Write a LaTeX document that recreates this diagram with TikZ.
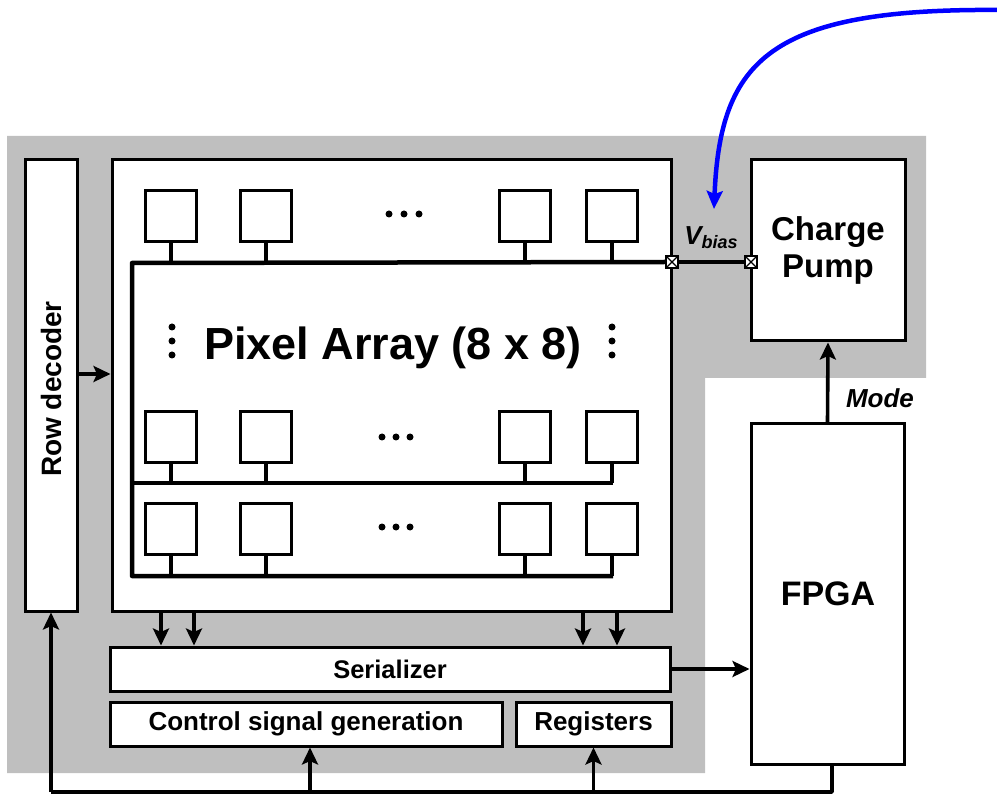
\documentclass[tikz,border=0pt]{standalone}
\usepackage{fontspec}
\setmainfont{Liberation Sans}
\usetikzlibrary{arrows.meta}
\definecolor{bggray}{RGB}{191,191,191}
\definecolor{curveblue}{RGB}{0,0,255}
\begin{document}
\begin{tikzpicture}[x=1pt,y=-1pt,
  box/.style={draw, line width=3pt, fill=white, inner sep=0pt},
  pix/.style={draw, line width=3pt, fill=white, minimum width=51pt, minimum height=51pt, inner sep=0pt},
  bus/.style={line width=4.5pt},
  wire/.style={line width=3.6pt},
  arr/.style={line width=3.6pt, -{Stealth[length=17pt,width=16pt,inset=3.5pt]}},
  lbl/.style={font=\fontsize{26}{30}\selectfont\bfseries},
  term/.style={draw, line width=2pt, fill=white, minimum size=12pt, inner sep=0pt,
    path picture={\draw[line width=1.4pt] (path picture bounding box.north west) -- (path picture bounding box.south east) (path picture bounding box.north east) -- (path picture bounding box.south west);}}
]
\useasboundingbox (0,0) rectangle (997,794);
% gray background
\fill[bggray] (7,136) -- (926,136) -- (926,378) -- (705,378) -- (705,773) -- (7,773) -- cycle;

% main boxes
\node[box, minimum width=52pt, minimum height=451pt] (rowdec) at (51,385.5) {};
\node[font=\fontsize{28}{30}\selectfont\bfseries, rotate=90] (rowtxt) at (51,389) {Row decoder};
\node[box, minimum width=559pt, minimum height=451pt] (pa) at (391.5,385.5) {};
\node[box, minimum width=154pt, minimum height=181pt, align=center, font=\fontsize{33}{37}\selectfont\bfseries] (cp) at (828,250.5) {Charge\\Pump};
\node[box, minimum width=153pt, minimum height=340pt] (fpga) at (827.5,594) {};
\node[font=\fontsize{34}{38}\selectfont\bfseries] (fpgatxt) at (828,594) {FPGA};
\node[box, minimum width=560pt, minimum height=44pt, font=\fontsize{25.5}{30}\selectfont\bfseries] (ser) at (390,669) {Serializer};
\node[box, minimum width=392pt, minimum height=44pt, lbl] (ctrl) at (306,724) {Control signal generation};
\node[box, minimum width=155pt, minimum height=44pt, lbl] (reg) at (593.5,724) {Registers};

% pixel array title
\node[font=\fontsize{45}{48}\selectfont\bfseries] (title) at (393,348) {Pixel Array (8 x 8)};

% terminals
\node[term] (t1) at (672,262) {};
\node[term] (t2) at (751,262) {};

% buses
\coordinate (b1L) at (132,263);
\coordinate (b2L) at (132,483);
\coordinate (b3L) at (132,576);
\coordinate (b2R) at (613,483);
\coordinate (b3R) at (613,576);
\draw[bus, line join=round] (t1.west) -- (b1L) -- (b3L) -- (b3R);
\draw[bus] (b2L) -- (b2R);
\draw[wire] (t1.east) -- (t2.west);

% pixels
\foreach \r/\yy/\by in {1/216.5/263, 2/437.5/483, 3/529/576}{
  \foreach \c/\xx in {1/171, 2/266, 3/525, 4/612}{
    \node[pix] (p\r\c) at (\xx,\yy) {};
    \coordinate (q\r\c) at (\xx,\by);
    \draw[bus] (p\r\c.south) -- (q\r\c);
  }
}

% horizontal ellipses
\foreach \xx in {389,404,419}{\fill (\xx,214) circle (3.5pt);}
\foreach \xx in {382,396,410}{\fill (\xx,437) circle (3.5pt); \fill (\xx,527) circle (3.5pt);}
% vertical ellipses
\foreach \yy in {327,341,355}{\fill (172,\yy) circle (3.5pt); \fill (612,\yy) circle (3.5pt);}

% labels
\node[font=\fontsize{26}{28}\selectfont\bfseries\itshape, inner sep=0pt] (vb) at (711,238) {V{\fontsize{18}{20}\selectfont\raisebox{-4pt}{bias}}};
\node[font=\fontsize{26}{28}\selectfont\bfseries\itshape] (mode) at (880,398) {Mode};

% arrows
\coordinate (rd) at (0,374);
\draw[arr] (rowdec.east |- rd) -- (pa.west |- rd);
\foreach \xx/\nm in {161/a, 194/b, 583/c, 617/d}{
  \coordinate (s\nm) at (\xx,0);
  \draw[arr] (pa.south -| s\nm) -- (ser.north -| s\nm);
}
\draw[arr] (ser.east) -- (fpga.west |- ser.east);
\draw[arr] (fpga.north) -- (cp.south);

% feedback bus
\coordinate (fb) at (832,792);
\coordinate (fbL) at (51,792);
\coordinate (cx) at (310,792);
\draw[wire, line join=round] (fpga.south -| fb) -- (fb) -- (fbL);
\draw[arr] (fbL) -- (rowdec.south);
\draw[arr] (cx) -- (ctrl.south -| cx);
\draw[arr] (reg.south |- fb) -- (reg.south);

% blue curve
\coordinate (bs) at (1000,10);
\coordinate (be) at (714,209);
\draw[curveblue, line width=4.5pt, -{Stealth[length=18pt,width=16pt,inset=3pt]}] (bs) .. controls (770,8) and (720,60) .. (be);
\end{tikzpicture}
\end{document}
